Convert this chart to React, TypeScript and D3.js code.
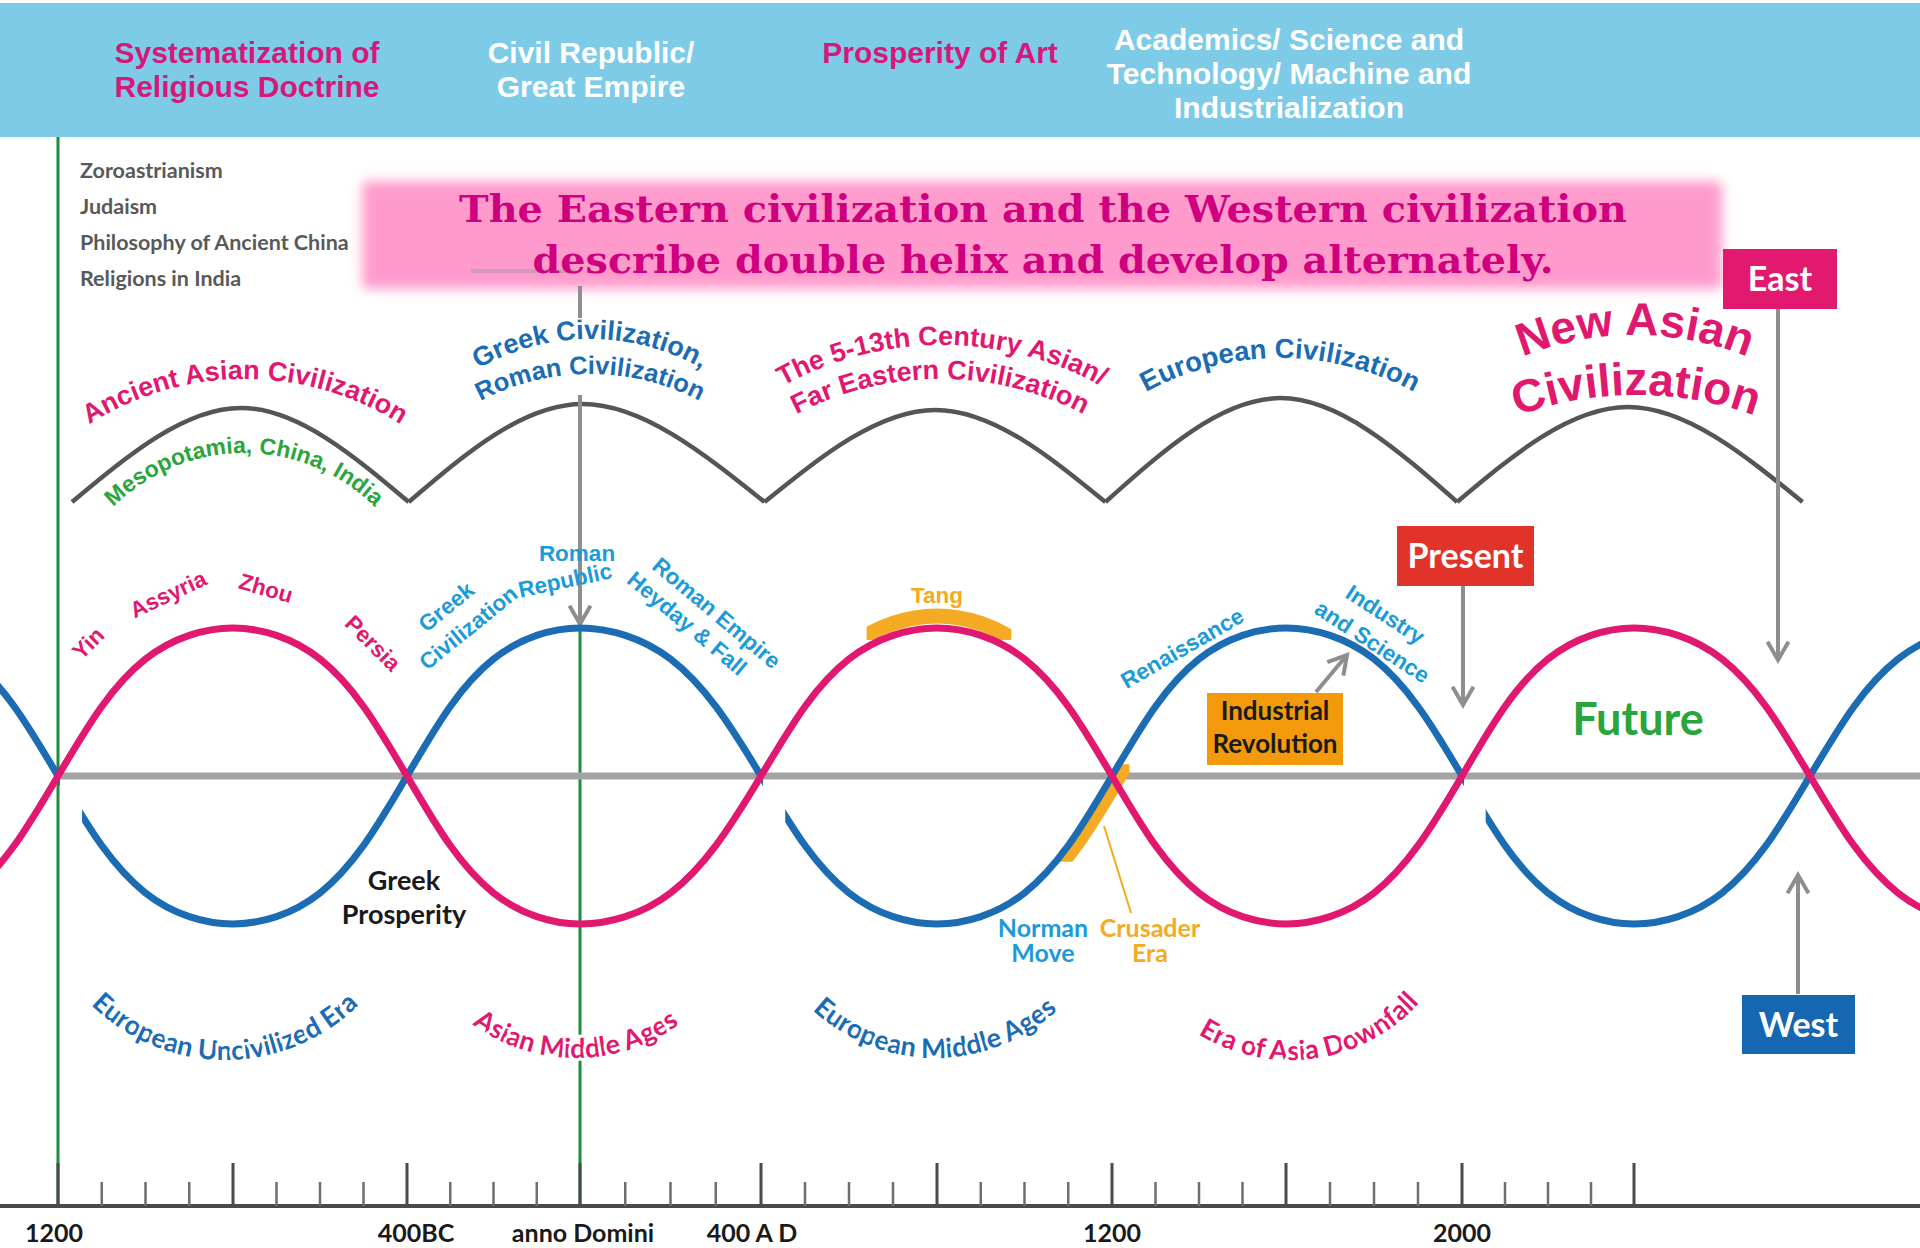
import React from 'react';
import * as d3 from 'd3';

// ---------- data ----------
const majorYears = [-1200, -800, -400, 0, 400, 800, 1200, 1600, 2000, 2400];
const minorYears = [-1100, -1000, -900, -700, -600, -500, -300, -200, -100, 100, 200, 300,
  500, 600, 700, 900, 1000, 1100, 1300, 1400, 1500, 1700, 1800, 1900, 2100, 2200, 2300];
const labelYears = [-1200, -400, 0, 400, 1200, 2000];
const labelTexts = ['1200', '400BC', 'anno Domini', '400 A D', '1200', '2000'];
const labelNudges = [-4, 9, 3, -9, 0, 0];

// wave samples every century (+1 = prosperity peak, -1 = trough)
const waveYears = [-1600, -1500, -1400, -1300, -1200, -1100, -1000, -900, -800, -700, -600, -500,
  -400, -300, -200, -100, 0, 100, 200, 300, 400, 500, 600, 700, 800, 900, 1000, 1100, 1200,
  1300, 1400, 1500, 1600, 1700, 1800, 1900, 2000, 2100, 2200, 2300, 2400, 2500, 2600, 2700,
  2800, 2900, 3000, 3100, 3200];
const eastLevels = [-1, -0.95, -0.79, -0.47, 0, 0.47, 0.79, 0.95, 1, 0.95, 0.79, 0.47,
  0, -0.47, -0.79, -0.95, -1, -0.95, -0.79, -0.47, 0, 0.47, 0.79, 0.95, 1, 0.95, 0.79, 0.47, 0,
  -0.47, -0.79, -0.95, -1, -0.95, -0.79, -0.47, 0, 0.47, 0.79, 0.95, 1, 0.95, 0.79, 0.47,
  0, -0.47, -0.79, -0.95, -1];
const westLevels = [1, 0.95, 0.79, 0.47, 0, -0.47, -0.79, -0.95, -1, -0.95, -0.79, -0.47,
  0, 0.47, 0.79, 0.95, 1, 0.95, 0.79, 0.47, 0, -0.47, -0.79, -0.95, -1, -0.95, -0.79, -0.47, 0,
  0.47, 0.79, 0.95, 1, 0.95, 0.79, 0.47, 0, -0.47, -0.79, -0.95, -1, -0.95, -0.79, -0.47,
  0, 0.47, 0.79, 0.95, 1];
const westGaps = [[-1200, -1145], [400, 455], [2000, 2055]];

// civilisation arches
const archYears = [-1168, -396, 408, 1185, 1989, 2783];
const archPeaks = [0.96, 1.0, 0.94, 1.06, 0.97];

const tangYears = [640, 970];
const crusadeYears = [1070, 1240];
const crusadeLevels = [-0.58, 0.08];

const headerTexts = [
  { lines: ['Systematization of', 'Religious Doctrine'], x: 247, y: 63, color: '#d6187a' },
  { lines: ['Civil Republic/', 'Great Empire'], x: 591, y: 63, color: '#ffffff' },
  { lines: ['Prosperity of Art'], x: 940, y: 63, color: '#d6187a' },
  { lines: ['Academics/ Science and', 'Technology/ Machine and', 'Industrialization'], x: 1289, y: 50, color: '#ffffff' },
];
const religions = ['Zoroastrianism', 'Judaism', 'Philosophy of Ancient China', 'Religions in India'];

// ---------- style ----------
const C = {
  pink: '#e0186f', blue: '#1b6cb3', light: '#1c9bd8', green: '#2aa53b', dkGreen: '#1f8d3b',
  orange: '#f4aa22', gray: '#8e8e8e', arch: '#555555', header: '#7ecbe8', banner: '#ff9bcc',
  bannerText: '#cf0080', red: '#e2332a', east: '#e11a6f', west: '#1567b2', ind: '#f39a0c',
};
const SANS = "'Liberation Sans', Arial, sans-serif";
const HUM = "Lato, 'Open Sans', sans-serif";
const SERIF = "'DejaVu Serif', 'Liberation Serif', serif";

const W = 1920, H = 1248;
const xS = d3.scaleLinear()
  .domain([-1200, -800, -400, 0, 400, 800, 1200, 1600, 2000, 2400, 2800])
  .range([58, 233, 407, 580, 761, 937, 1112, 1286, 1462, 1634, 1810]);
const yS = d3.scaleLinear().domain([-1, 1]).range([924, 628]);
const archY = d3.scaleLinear().domain([0, 1]).range([502, 404]);
const axisY = 1206;

const waveLine = d3.line<number>()
  .x((_, i) => xS(waveYears[i]))
  .y(d => yS(d))
  .curve(d3.curveNatural);
const archLine = d3.line<[number, number]>()
  .x(d => xS(d[0]))
  .y(d => archY(d[1]))
  .curve(d3.curveNatural);

// curved labels above the arches; each entry is one label, one line per arc
const topArcLabels = [
  { lines: [{ text: 'Ancient Asian Civilization', cx: 245, y: 379, r: 290, size: 27 }], color: C.pink },
  { lines: [{ text: 'Mesopotamia, China, India', cx: 244, y: 453, r: 185, size: 23 }], color: C.green },
  {
    lines: [
      { text: 'Greek Civilization,', cx: 590, y: 339, r: 225, size: 27 },
      { text: 'Roman Civilization', cx: 590, y: 374, r: 235, size: 25.5 },
    ], color: C.blue,
  },
  {
    lines: [
      { text: 'The 5-13th Century Asian/', cx: 942, y: 345, r: 330, size: 27 },
      { text: 'Far Eastern Civilization', cx: 940, y: 379, r: 310, size: 27 },
    ], color: C.pink,
  },
  { lines: [{ text: 'European Civilization', cx: 1280, y: 358, r: 280, size: 27.5 }], color: C.blue },
  {
    lines: [
      { text: 'New Asian', cx: 1635, y: 335, r: 300, size: 46 },
      { text: 'Civilization', cx: 1636, y: 395, r: 350, size: 46 },
    ], color: C.pink,
  },
];
const bottomArcLabels = [
  { text: 'European Uncivilized Era', cx: 225, y: 1060, r: 190, size: 27, color: C.blue, shift: 0 },
  { text: 'Asian Middle Ages', cx: 576, y: 1058, r: 175, size: 27, color: C.pink, shift: 0 },
  { text: 'European Middle Ages', cx: 935, y: 1058, r: 180, size: 27, color: C.blue, shift: 0 },
  { text: 'Era of Asia Downfall', cx: 1290, y: 1060, r: 175, size: 27, color: C.pink, shift: -8 },
];
// rotated straight labels; lines given as [text, offset along, offset across]
const rotLabels = [
  { lines: [['Yin', 0, 0]], x: 88, y: 643, rot: -45, color: C.pink },
  { lines: [['Assyria', 0, 0]], x: 168, y: 594, rot: -25, color: C.pink },
  { lines: [['Zhou', 0, 0]], x: 266, y: 588, rot: 16, color: C.pink },
  { lines: [['Persia', 0, 0]], x: 373, y: 643, rot: 45, color: C.pink },
  { lines: [['Greek', -2, -15], ['Civilization', 2, 15]], x: 457, y: 617, rot: -39, color: C.light },
  { lines: [['Roman', 0, 0]], x: 577, y: 553, rot: 0, color: C.light },
  { lines: [['Republic', 0, 0]], x: 565, y: 580, rot: -12, color: C.light },
  { lines: [['Roman Empire', 8, -13.5], ['Heyday & Fall', -8, 13.5]], x: 702, y: 618, rot: 40, color: C.light },
  { lines: [['Renaissance', 0, 0]], x: 1182, y: 648, rot: -30, color: C.light },
  { lines: [['Industry', -2, -15], ['and Science', 2, 15]], x: 1379, y: 628, rot: 33, color: C.light },
  { lines: [['Tang', 0, 0]], x: 937, y: 595, rot: 0, color: C.orange },
];
const boxes = [
  { text: 'East', x: 1723, y: 249, w: 114, h: 60, fill: C.east },
  { text: 'West', x: 1742, y: 995, w: 113, h: 59, fill: C.west },
  { text: 'Present', x: 1397, y: 526, w: 137, h: 60, fill: C.red },
];
const arrows = [
  { x1: 580, y1: 286, x2: 580, y2: 318, head: false },
  { x1: 580, y1: 395, x2: 580, y2: 624, head: true },
  { x1: 1778, y1: 309, x2: 1778, y2: 660, head: true },
  { x1: 1463, y1: 586, x2: 1463, y2: 705, head: true },
  { x1: 1798, y1: 994, x2: 1798, y2: 875, head: true },
  { x1: 1316, y1: 692, x2: 1347, y2: 655, head: true },
];

function arcPath(cx: number, cy: number, r: number, a0: number, a1: number, ccw: boolean) {
  const p = d3.path();
  p.arc(cx, cy, r, a0, a1, ccw);
  return p.toString();
}

function chevron(a: { x1: number; y1: number; x2: number; y2: number }) {
  const ang = Math.atan2(a.y2 - a.y1, a.x2 - a.x1);
  const len = 21, spread = Math.PI / 6;
  const p1 = [a.x2 - len * Math.cos(ang - spread), a.y2 - len * Math.sin(ang - spread)];
  const p2 = [a.x2 - len * Math.cos(ang + spread), a.y2 - len * Math.sin(ang + spread)];
  return `M${p1[0]},${p1[1]}L${a.x2},${a.y2}L${p2[0]},${p2[1]}`;
}

export default function App() {
  const eastPath = waveLine(eastLevels) || '';
  const westPath = waveLine(westLevels) || '';

  return (
    <svg width={W} height={H} viewBox={`0 0 ${W} ${H}`}
      style={{ position: 'absolute', left: 0, top: 0, background: '#fff' }}>
      <defs>
        <filter id="soft" x="-5%" y="-30%" width="110%" height="160%">
          <feGaussianBlur stdDeviation="6" />
        </filter>
        <mask id="westMask">
          <rect x={0} y={0} width={W} height={H} fill="#fff" />
          {westGaps.map((g, i) => (
            <rect key={i} x={xS(g[0]) + 2} y={yS(0) - 2} width={xS(g[1]) - xS(g[0]) - 2} height={80} fill="#000" />
          ))}
        </mask>
        <clipPath id="tangClip">
          <rect x={xS(tangYears[0])} y={590} width={xS(tangYears[1]) - xS(tangYears[0])} height={50} />
        </clipPath>
        <clipPath id="crusadeClip">
          <rect x={xS(crusadeYears[0])} y={yS(crusadeLevels[1])} width={xS(crusadeYears[1]) - xS(crusadeYears[0])}
            height={yS(crusadeLevels[0]) - yS(crusadeLevels[1])} />
        </clipPath>
        {topArcLabels.map((l, i) => l.lines.map((ln, j) => (
          <path key={`${i}-${j}`} id={`ta${i}-${j}`} d={arcPath(ln.cx, ln.y + ln.r, ln.r, -Math.PI, 0, false)} />
        )))}
        {bottomArcLabels.map((l, i) => {
          const s = (l.shift * Math.PI) / 180;
          return <path key={i} id={`ba${i}`} d={arcPath(l.cx, l.y - l.r, l.r, Math.PI + s, s, true)} />;
        })}
      </defs>

      <rect width={W} height={H} fill="#fff" />

      {/* header band */}
      <rect x={0} y={3} width={W} height={134} fill={C.header} />
      {headerTexts.map((h, i) => (
        <text key={i} x={h.x} y={h.y} textAnchor="middle" fontFamily={SANS} fontWeight={700}
          fontSize={30} fill={h.color}>
          {h.lines.map((ln, j) => (
            <tspan key={j} x={h.x} dy={j === 0 ? 0 : 34}>{ln}</tspan>
          ))}
        </text>
      ))}

      {/* religions list */}
      {religions.map((t, i) => (
        <text key={t} x={80} y={178 + i * 36} fontFamily={HUM} fontWeight={700} fontSize={21.5} fill="#595959">{t}</text>
      ))}

      {/* banner */}
      <rect x={362} y={181} width={1360} height={108} rx={6} fill={C.banner} filter="url(#soft)" />
      <line x1={471} x2={576} y1={271} y2={271} stroke="#9a9a9a" strokeWidth={4} opacity={0.45} />
      <text x={1043} y={222} textAnchor="middle" fontFamily={SERIF} fontWeight={700} fontSize={38}
        fill={C.bannerText} textLength={1168} lengthAdjust="spacingAndGlyphs">
        The Eastern civilization and the Western civilization
      </text>
      <text x={1043} y={273} textAnchor="middle" fontFamily={SERIF} fontWeight={700} fontSize={38}
        fill={C.bannerText} textLength={1021} lengthAdjust="spacingAndGlyphs">
        describe double helix and develop alternately.
      </text>

      {/* green era lines */}
      <line x1={xS(-1200)} x2={xS(-1200)} y1={137} y2={axisY} stroke={C.dkGreen} strokeWidth={3} />
      <line x1={xS(0)} x2={xS(0)} y1={yS(1)} y2={axisY} stroke={C.dkGreen} strokeWidth={3} />

      {/* mid line */}
      <line x1={xS(-1200)} x2={W} y1={yS(0)} y2={yS(0)} stroke="#a3a3a3" strokeWidth={7} />

      {/* civilisation arches */}
      {archPeaks.map((pk, i) => {
        const a = archYears[i], b = archYears[i + 1];
        return (
          <path key={i} d={archLine([[a, 0], [(a + b) / 2, pk], [b, 0]]) || ''} fill="none"
            stroke={C.arch} strokeWidth={4.5} />
        );
      })}

      {/* arrows */}
      {arrows.map((a, i) => (
        <g key={i} stroke={C.gray} strokeWidth={4} fill="none">
          <line x1={a.x1} y1={a.y1} x2={a.x2} y2={a.y2} />
          {a.head && <path d={chevron(a)} strokeLinejoin="miter" />}
        </g>
      ))}

      {/* Tang / Crusader highlight bands */}
      <g clipPath="url(#tangClip)">
        <path d={eastPath} transform="translate(0,-12)" fill="none" stroke={C.orange} strokeWidth={15} />
      </g>
      <g clipPath="url(#crusadeClip)">
        <path d={westPath} transform="translate(9,0)" fill="none" stroke={C.orange} strokeWidth={12} />
      </g>
      <line x1={1104} y1={826} x2={1131} y2={913} stroke={C.orange} strokeWidth={2} />

      {/* helix */}
      <path d={westPath} fill="none" stroke={C.blue} strokeWidth={7} strokeLinecap="round" mask="url(#westMask)" />
      <path d={eastPath} fill="none" stroke={C.pink} strokeWidth={7} />

      {/* curved arch labels */}
      {topArcLabels.map((l, i) => (
        <text key={i} fontFamily={SANS} fontWeight={700} fill={l.color}>
          {l.lines.map((ln, j) => (
            <textPath key={j} href={`#ta${i}-${j}`} startOffset="50%" textAnchor="middle" fontSize={ln.size}>
              {ln.text}
            </textPath>
          ))}
        </text>
      ))}
      {bottomArcLabels.map((l, i) => (
        <text key={i} fontFamily={HUM} fontWeight={700} fontSize={l.size} fill={l.color}
          stroke="#fff" strokeWidth={6} paintOrder="stroke">
          <textPath href={`#ba${i}`} startOffset="50%" textAnchor="middle">{l.text}</textPath>
        </text>
      ))}

      {/* rotated labels */}
      {rotLabels.map((l, i) => (
        <text key={i} transform={`translate(${l.x},${l.y}) rotate(${l.rot})`} textAnchor="middle"
          dominantBaseline="central" fontFamily={SANS} fontWeight={700} fontSize={22.5} fill={l.color}>
          {l.lines.map((ln, j) => (
            <tspan key={j} x={ln[1] as number} y={ln[2] as number}>{ln[0]}</tspan>
          ))}
        </text>
      ))}

      <text x={404} y={890} textAnchor="middle" fontFamily={HUM} fontWeight={700} fontSize={27} fill="#1a1a1a">
        <tspan x={404}>Greek</tspan>
        <tspan x={404} dy={34}>Prosperity</tspan>
      </text>
      <text x={1043} y={937} textAnchor="middle" fontFamily={HUM} fontWeight={700} fontSize={25} fill={C.light}>
        <tspan x={1043}>Norman</tspan>
        <tspan x={1043} dy={25}>Move</tspan>
      </text>
      <text x={1150} y={937} textAnchor="middle" fontFamily={HUM} fontWeight={700} fontSize={25} fill={C.orange}>
        <tspan x={1150}>Crusader</tspan>
        <tspan x={1150} dy={25}>Era</tspan>
      </text>
      <text x={1638} y={735} textAnchor="middle" fontFamily={HUM} fontWeight={700} fontSize={45} fill={C.green}>
        Future
      </text>

      {/* boxes */}
      {boxes.map(b => (
        <g key={b.text}>
          <rect x={b.x} y={b.y} width={b.w} height={b.h} fill={b.fill} />
          <text x={b.x + b.w / 2} y={b.y + b.h / 2 + 12} textAnchor="middle" fontFamily={HUM}
            fontWeight={700} fontSize={34} fill="#fff">{b.text}</text>
        </g>
      ))}
      <rect x={1207} y={693} width={136} height={72} fill={C.ind} />
      <text x={1275} y={720} textAnchor="middle" fontFamily={HUM} fontWeight={700} fontSize={26} fill="#1a1a1a">
        <tspan x={1275}>Industrial</tspan>
        <tspan x={1275} dy={33}>Revolution</tspan>
      </text>

      {/* time axis */}
      <line x1={0} x2={W} y1={axisY} y2={axisY} stroke="#4a4a4a" strokeWidth={4} />
      {minorYears.map(y => (
        <line key={y} x1={xS(y)} x2={xS(y)} y1={axisY - 24} y2={axisY} stroke="#6e6e6e" strokeWidth={2.5} />
      ))}
      {majorYears.map(y => (
        <line key={y} x1={xS(y)} x2={xS(y)} y1={axisY - 43} y2={axisY} stroke="#4a4a4a" strokeWidth={3} />
      ))}
      {labelYears.map((y, i) => (
        <text key={i} x={xS(y) + labelNudges[i]} y={1242} textAnchor="middle" fontFamily={HUM}
          fontWeight={700} fontSize={25} fill="#1a1a1a">{labelTexts[i]}</text>
      ))}
    </svg>
  );
}
